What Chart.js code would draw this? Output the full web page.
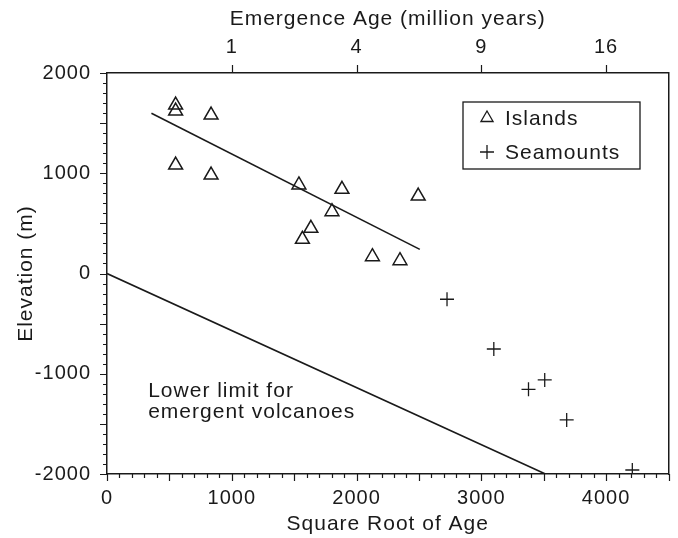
<!DOCTYPE html>
<html>
<head>
<meta charset="utf-8">
<script src="https://cdn.jsdelivr.net/npm/chart.js@4.4.0/dist/chart.umd.min.js"></script>
<style>
  html, body { margin: 0; padding: 0; background: #fff; }
  #wrap { width: 678px; height: 538px; }
</style>
</head>
<body>
<div id="wrap"><canvas id="chart"></canvas></div>
<script>
// --- data ---
const islandX = [550, 550, 834, 550, 834, 1538, 1883, 1803, 1634, 1566, 2127, 2348, 2494];
const islandY = [1680, 1620, 1581, 1082, 982, 883, 840, 617, 451, 341, 168, 128, 773];

const seamountX = [2725, 3100, 3508, 3378, 3684, 4210];
const seamountY = [-257, -753, -1062, -1155, -1461, -1960];

// fitted trend through the islands, and the lower limit for emergent volcanoes
const fitX = [356, 2507];
const fitY = [1598, 241];
const limitX = [0, 3514];
const limitY = [0, -2000];

const bottomTicks = [0, 1000, 2000, 3000, 4000];
const leftTicks = [-2000, -1000, 0, 1000, 2000];
const ageTicks = [1, 4, 9, 16];           // million years -> sqrt(age in years)
const limitLabel = ['Lower limit for', 'emergent volcanoes'];
const limitLabelAt = { x: 330, y: -1232 };

const INK = '#1a1a1a';
const FAMILY = '"Liberation Sans", Arial, Helvetica, sans-serif';
const tickFont = { family: FAMILY, size: 20 };
const titleFont = { family: FAMILY, size: 21 };
const SPACING = '1px';

const toPoints = (xs, ys) => xs.map((x, i) => ({ x, y: ys[i] }));

// letter spacing to get closer to the wide scanned lettering
const spacing = {
  id: 'spacing',
  beforeLayout(chart) { chart.ctx.letterSpacing = SPACING; },
  beforeDraw(chart) { chart.ctx.letterSpacing = SPACING; }
};

// minor / major tick marks, outward, like the original frame
const tickMarks = {
  id: 'tickMarks',
  afterDraw(chart) {
    const { ctx, chartArea: a, scales } = chart;
    ctx.save();
    ctx.strokeStyle = INK;
    ctx.lineWidth = 1.2;
    ctx.beginPath();
    for (let v = 0; v <= 4500; v += 100) {
      const px = Math.round(scales.x.getPixelForValue(v)) + 0.5;
      const len = v % 500 === 0 ? 7 : 4;
      ctx.moveTo(px, a.bottom);
      ctx.lineTo(px, a.bottom + len);
    }
    for (let v = -2000; v <= 2000; v += 100) {
      const py = Math.round(scales.y.getPixelForValue(v)) + 0.5;
      const len = v % 500 === 0 ? 7 : 4;
      ctx.moveTo(a.left, py);
      ctx.lineTo(a.left - len, py);
    }
    ageTicks.forEach(age => {
      const px = Math.round(scales.x2.getPixelForValue(Math.sqrt(age * 1e6))) + 0.5;
      ctx.moveTo(px, a.top);
      ctx.lineTo(px, a.top - 8);
    });
    ctx.stroke();
    ctx.restore();
  }
};

// boxed legend in the upper right + the text by the lower limit line
const notes = {
  id: 'notes',
  afterDraw(chart) {
    const { ctx, chartArea: a, scales } = chart;
    ctx.save();
    ctx.letterSpacing = SPACING;
    ctx.strokeStyle = INK;
    ctx.lineWidth = 1.3;
    const bx = a.left + 356, by = a.top + 29;
    ctx.strokeRect(bx, by, 177, 67);
    ctx.font = `${titleFont.size}px ${FAMILY}`;
    ctx.textBaseline = 'middle';
    [0, 1].forEach(i => {
      const ds = chart.data.datasets[i];
      const cy = by + 16 + i * 34;
      ctx.fillStyle = 'rgba(0,0,0,0)';
      Chart.helpers.drawPoint(ctx, {
        pointStyle: ds.pointStyle, radius: 7, borderWidth: 1.4, rotation: 0
      }, bx + 24, cy);
      ctx.fillStyle = INK;
      ctx.fillText(ds.label, bx + 42, cy + 1);
    });

    ctx.textBaseline = 'alphabetic';
    const lx = scales.x.getPixelForValue(limitLabelAt.x);
    const ly = scales.y.getPixelForValue(limitLabelAt.y);
    limitLabel.forEach((t, i) => ctx.fillText(t, lx, ly + i * 21));
    ctx.restore();
  }
};

new Chart(document.getElementById('chart'), {
  type: 'scatter',
  data: {
    datasets: [
      {
        label: 'Islands',
        data: toPoints(islandX, islandY),
        pointStyle: 'triangle',
        pointRadius: 8,
        borderColor: INK,
        backgroundColor: 'rgba(0,0,0,0)',
        borderWidth: 1.5
      },
      {
        label: 'Seamounts',
        data: toPoints(seamountX, seamountY),
        pointStyle: 'cross',
        pointRadius: 7,
        borderColor: INK,
        borderWidth: 1.3
      },
      {
        label: 'trend',
        type: 'line',
        data: toPoints(fitX, fitY),
        showLine: true,
        pointRadius: 0,
        borderColor: INK,
        borderWidth: 1.6
      },
      {
        label: 'lower limit',
        type: 'line',
        data: toPoints(limitX, limitY),
        showLine: true,
        pointRadius: 0,
        borderColor: INK,
        borderWidth: 1.6
      }
    ]
  },
  options: {
    responsive: true,
    maintainAspectRatio: false,
    animation: false,
    layout: { padding: 0 },
    plugins: {
      legend: { display: false },
      tooltip: { enabled: false }
    },
    scales: {
      x: {
        type: 'linear',
        position: 'bottom',
        min: 0,
        max: 4500,
        afterBuildTicks: s => { s.ticks = bottomTicks.map(v => ({ value: v })); },
        afterFit: s => { s.height = 64; },
        grid: { drawOnChartArea: false, drawTicks: false },
        border: { display: true, color: INK, width: 1.5 },
        ticks: { color: INK, font: tickFont, padding: 12, maxRotation: 0, callback: v => String(v) },
        title: { display: true, text: 'Square Root of Age', color: INK, font: titleFont, padding: { top: 0, bottom: 1 } }
      },
      x2: {
        type: 'linear',
        position: 'top',
        min: 0,
        max: 4500,
        afterBuildTicks: s => { s.ticks = ageTicks.map(a => ({ value: Math.sqrt(a * 1e6) })); },
        afterFit: s => { s.height = 73; },
        grid: { drawOnChartArea: false, drawTicks: false },
        border: { display: true, color: INK, width: 1.5 },
        ticks: { color: INK, font: tickFont, padding: 14, maxRotation: 0, callback: (v, i) => String(ageTicks[i]) },
        title: { display: true, text: 'Emergence Age (million years)', color: INK, font: titleFont, padding: { top: 7, bottom: 0 } }
      },
      y: {
        type: 'linear',
        position: 'left',
        min: -2000,
        max: 2000,
        afterBuildTicks: s => { s.ticks = leftTicks.map(v => ({ value: v })); },
        afterFit: s => { s.width = 107; },
        grid: { drawOnChartArea: false, drawTicks: false },
        border: { display: true, color: INK, width: 1.5 },
        ticks: { color: INK, font: tickFont, padding: 16, callback: v => String(v) },
        title: { display: true, text: 'Elevation (m)', color: INK, font: titleFont, padding: { top: 14, bottom: 0 } }
      },
      y2: {
        type: 'linear',
        position: 'right',
        min: -2000,
        max: 2000,
        afterFit: s => { s.width = 6; },
        grid: { drawOnChartArea: false, drawTicks: false },
        border: { display: true, color: INK, width: 1.5 },
        ticks: { display: false }
      }
    }
  },
  plugins: [spacing, tickMarks, notes]
});
</script>
</body>
</html>
